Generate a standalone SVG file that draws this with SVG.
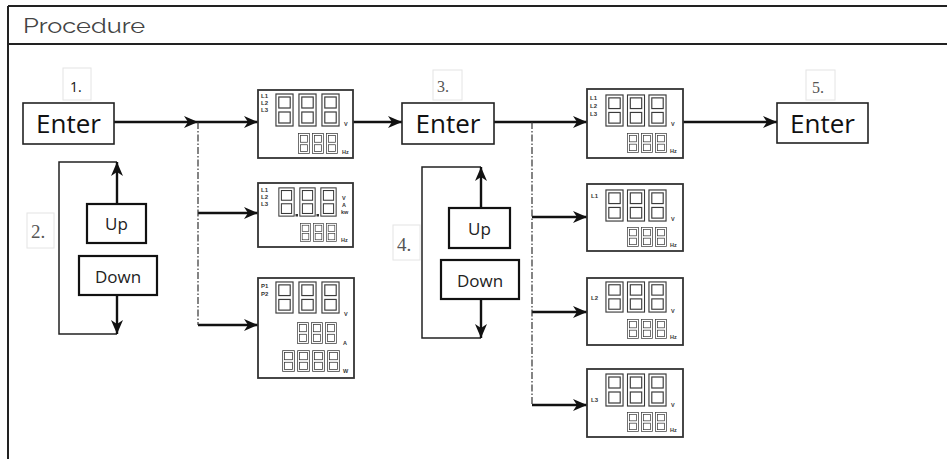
<svg xmlns="http://www.w3.org/2000/svg" xmlns:xlink="http://www.w3.org/1999/xlink" width="947" height="459" viewBox="0 0 947 459">
<style>
.frame{fill:none;stroke:#222;stroke-width:2}
.box{fill:#fff;stroke:#222;stroke-width:1.6}
.btn{fill:#fff;stroke:#111;stroke-width:2.2}
.disp{fill:#fff;stroke:#333;stroke-width:1.8}
.lbl{fill:#fff;stroke:#e4e4e4;stroke-width:1}
.conn{fill:none;stroke:#111;stroke-width:2.4}
.thin{fill:none;stroke:#222;stroke-width:1.5}
.dd{fill:none;stroke:#333;stroke-width:1.2;stroke-dasharray:7 2 1.5 2}
.big{font-family:"Open Sans","Liberation Sans",sans-serif;font-size:26px;fill:#111;text-anchor:middle}
.bt{font-family:"Open Sans","Liberation Sans",sans-serif;font-size:17px;fill:#222;text-anchor:middle}
.num{font-family:"Liberation Serif",serif;fill:#555}
.tiny{font-family:"Liberation Sans",Arial,sans-serif;font-weight:bold;font-size:6px;fill:#333}
.unit{font-family:"Liberation Sans",Arial,sans-serif;font-weight:bold;font-size:5.5px;fill:#333}
</style>
<defs>
<symbol id="d8" viewBox="0 0 20 34" preserveAspectRatio="none">
<g fill="none" stroke="#3a3a3a" stroke-width="1.2">
<rect x="1" y="1" width="18" height="32"/>
<rect x="4" y="4" width="12" height="11"/>
<rect x="4" y="19" width="12" height="11"/>
</g>
</symbol>
<marker id="ah" viewBox="0 0 14 12" refX="14" refY="6" markerWidth="14" markerHeight="12" markerUnits="userSpaceOnUse" orient="auto">
<path d="M0,0 L14,6 L0,12 L4,6 z" fill="#111"/>
</marker>
</defs>

<g id="frame">
<line class="frame" x1="8" y1="6" x2="947" y2="6"/>
<line class="frame" x1="8" y1="44" x2="947" y2="44"/>
<line class="frame" x1="8" y1="6" x2="8" y2="459"/>
<text x="23" y="33" font-family="Raleway,Lato,'Noto Sans',sans-serif" font-size="21" fill="#444" textLength="122" lengthAdjust="spacingAndGlyphs">Procedure</text>
</g>

<g id="connectors">
<line class="conn" x1="114" y1="122" x2="198" y2="122" marker-end="url(#ah)"/>
<line class="conn" x1="198" y1="122" x2="258" y2="122" marker-end="url(#ah)"/>
<line class="conn" x1="198" y1="213" x2="258" y2="213" marker-end="url(#ah)"/>
<line class="conn" x1="198" y1="325" x2="258" y2="325" marker-end="url(#ah)"/>
<line class="dd" x1="198" y1="122" x2="198" y2="325"/>
<line class="conn" x1="353" y1="122" x2="402" y2="122" marker-end="url(#ah)"/>
<line class="conn" x1="494" y1="122" x2="587" y2="122" marker-end="url(#ah)"/>
<line class="conn" x1="532" y1="217" x2="587" y2="217" marker-end="url(#ah)"/>
<line class="conn" x1="532" y1="312" x2="587" y2="312" marker-end="url(#ah)"/>
<line class="conn" x1="532" y1="405" x2="587" y2="405" marker-end="url(#ah)"/>
<line class="dd" x1="532" y1="122" x2="532" y2="405"/>
<line class="conn" x1="683" y1="122" x2="777" y2="122" marker-end="url(#ah)"/>
<polyline class="thin" points="117,162 59,162 59,334 117,334"/>
<line class="conn" x1="117" y1="204" x2="117" y2="162" marker-end="url(#ah)"/>
<line class="conn" x1="117" y1="295" x2="117" y2="334" marker-end="url(#ah)"/>
<polyline class="thin" points="481,167 422,167 422,338 481,338"/>
<line class="conn" x1="481" y1="208" x2="481" y2="167" marker-end="url(#ah)"/>
<line class="conn" x1="481" y1="299" x2="481" y2="338" marker-end="url(#ah)"/>
</g>

<g id="step1">
<rect class="lbl" x="63" y="68" width="28" height="32"/>
<text x="70" y="92" font-family="'Open Sans','Liberation Sans',sans-serif" font-size="14" fill="#111">1.</text>
</g>
<g id="enter1">
<rect class="box" x="23" y="103" width="91" height="41"/>
<text class="big" x="68.5" y="133">Enter</text>
</g>

<g id="step2">
<rect class="lbl" x="27" y="213" width="27" height="35"/>
<text class="num" x="31" y="238" font-size="19">2.</text>
</g>
<g id="up1">
<rect class="btn" x="87" y="204" width="59" height="39"/>
<text class="bt" x="116.5" y="230">Up</text>
</g>
<g id="down1">
<rect class="btn" x="79" y="256" width="78" height="39"/>
<text class="bt" x="118" y="283">Down</text>
</g>

<g id="disp1a">
<rect class="disp" x="258" y="90" width="95" height="68"/>
<text class="tiny" x="261" y="98">L1</text>
<text class="tiny" x="261" y="105">L2</text>
<text class="tiny" x="261" y="112">L3</text>
<use xlink:href="#d8" x="275" y="93" width="19" height="34"/>
<use xlink:href="#d8" x="298" y="93" width="19" height="34"/>
<use xlink:href="#d8" x="321" y="93" width="19" height="34"/>
<text class="unit" x="344" y="126">V</text>
<use xlink:href="#d8" x="298" y="133" width="12" height="21"/>
<use xlink:href="#d8" x="312" y="133" width="12" height="21"/>
<use xlink:href="#d8" x="326" y="133" width="12" height="21"/>
<text class="unit" x="342" y="154" font-size="4.5">Hz</text>
</g>

<g id="disp1b">
<rect class="disp" x="258" y="183" width="95" height="64"/>
<text class="tiny" x="261" y="192">L1</text>
<text class="tiny" x="261" y="199">L2</text>
<text class="tiny" x="261" y="206">L3</text>
<use xlink:href="#d8" x="278" y="187" width="17" height="30"/>
<use xlink:href="#d8" x="299" y="187" width="17" height="30"/>
<use xlink:href="#d8" x="320" y="187" width="17" height="30"/>
<rect x="295.5" y="214" width="2.5" height="2.5" fill="#333"/>
<rect x="316.5" y="214" width="2.5" height="2.5" fill="#333"/>
<text class="unit" x="342" y="200">V</text>
<text class="unit" x="342" y="207">A</text>
<text class="unit" x="341" y="214" font-size="4.5">kw</text>
<use xlink:href="#d8" x="300" y="223" width="11" height="19"/>
<use xlink:href="#d8" x="313" y="223" width="11" height="19"/>
<use xlink:href="#d8" x="326" y="223" width="11" height="19"/>
<text class="unit" x="341" y="242" font-size="4.5">Hz</text>
</g>

<g id="disp1c">
<rect class="disp" x="258" y="278" width="96" height="100"/>
<text class="tiny" x="261" y="288">P1</text>
<text class="tiny" x="261" y="296">P2</text>
<use xlink:href="#d8" x="275" y="281" width="19" height="33"/>
<use xlink:href="#d8" x="298" y="281" width="19" height="33"/>
<use xlink:href="#d8" x="321" y="281" width="19" height="33"/>
<text class="unit" x="344" y="316">V</text>
<use xlink:href="#d8" x="297" y="322" width="12" height="22"/>
<use xlink:href="#d8" x="311" y="322" width="12" height="22"/>
<use xlink:href="#d8" x="325" y="322" width="12" height="22"/>
<text class="unit" x="343" y="345">A</text>
<use xlink:href="#d8" x="282" y="350" width="13" height="22"/>
<use xlink:href="#d8" x="297" y="350" width="13" height="22"/>
<use xlink:href="#d8" x="312" y="350" width="13" height="22"/>
<use xlink:href="#d8" x="327" y="350" width="13" height="22"/>
<text class="unit" x="343" y="373">W</text>
</g>

<g id="step3">
<rect class="lbl" x="433" y="70" width="29" height="30"/>
<text class="num" x="437" y="92" font-size="16">3.</text>
</g>
<g id="enter3">
<rect class="box" x="402" y="103" width="92" height="41"/>
<text class="big" x="448" y="133">Enter</text>
</g>

<g id="step4">
<rect class="lbl" x="393" y="225" width="27" height="35"/>
<text class="num" x="397" y="251" font-size="19">4.</text>
</g>
<g id="up2">
<rect class="btn" x="449" y="208" width="61" height="40"/>
<text class="bt" x="479.5" y="235">Up</text>
</g>
<g id="down2">
<rect class="btn" x="441" y="260" width="78" height="39"/>
<text class="bt" x="480" y="287">Down</text>
</g>

<g id="disp2a">
<rect class="disp" x="587" y="89" width="96" height="69"/>
<text class="tiny" x="590" y="100">L1</text>
<text class="tiny" x="590" y="108">L2</text>
<text class="tiny" x="590" y="116">L3</text>
<use xlink:href="#d8" x="605" y="94" width="19" height="33"/>
<use xlink:href="#d8" x="626.5" y="94" width="19" height="33"/>
<use xlink:href="#d8" x="648" y="94" width="19" height="33"/>
<text class="unit" x="671" y="126">V</text>
<use xlink:href="#d8" x="627" y="133" width="12" height="20"/>
<use xlink:href="#d8" x="641" y="133" width="12" height="20"/>
<use xlink:href="#d8" x="655" y="133" width="12" height="20"/>
<text class="unit" x="670" y="153" font-size="4.5">Hz</text>
</g>

<g id="disp2b">
<rect class="disp" x="587" y="184" width="96" height="67"/>
<text class="tiny" x="591" y="198">L1</text>
<use xlink:href="#d8" x="605" y="189" width="19" height="33"/>
<use xlink:href="#d8" x="626.5" y="189" width="19" height="33"/>
<use xlink:href="#d8" x="648" y="189" width="19" height="33"/>
<text class="unit" x="671" y="221">V</text>
<use xlink:href="#d8" x="627" y="227" width="12" height="20"/>
<use xlink:href="#d8" x="641" y="227" width="12" height="20"/>
<use xlink:href="#d8" x="655" y="227" width="12" height="20"/>
<text class="unit" x="670" y="247" font-size="4.5">Hz</text>
</g>

<g id="disp2c">
<rect class="disp" x="587" y="278" width="96" height="67"/>
<text class="tiny" x="591" y="300">L2</text>
<use xlink:href="#d8" x="605" y="281" width="19" height="32"/>
<use xlink:href="#d8" x="626.5" y="281" width="19" height="32"/>
<use xlink:href="#d8" x="648" y="281" width="19" height="32"/>
<text class="unit" x="671" y="313">V</text>
<use xlink:href="#d8" x="627" y="319" width="12" height="20"/>
<use xlink:href="#d8" x="641" y="319" width="12" height="20"/>
<use xlink:href="#d8" x="655" y="319" width="12" height="20"/>
<text class="unit" x="670" y="339" font-size="4.5">Hz</text>
</g>

<g id="disp2d">
<rect class="disp" x="587" y="369" width="96" height="68"/>
<text class="tiny" x="591" y="402">L3</text>
<use xlink:href="#d8" x="605" y="373" width="19" height="34"/>
<use xlink:href="#d8" x="626.5" y="373" width="19" height="34"/>
<use xlink:href="#d8" x="648" y="373" width="19" height="34"/>
<text class="unit" x="671" y="407">V</text>
<use xlink:href="#d8" x="627" y="412" width="12" height="20"/>
<use xlink:href="#d8" x="641" y="412" width="12" height="20"/>
<use xlink:href="#d8" x="655" y="412" width="12" height="20"/>
<text class="unit" x="670" y="432" font-size="4.5">Hz</text>
</g>

<g id="step5">
<rect class="lbl" x="806" y="70" width="29" height="30"/>
<text class="num" x="812" y="93" font-size="16">5.</text>
</g>
<g id="enter5">
<rect class="box" x="777" y="103" width="91" height="40"/>
<text class="big" x="822.5" y="133">Enter</text>
</g>
</svg>
